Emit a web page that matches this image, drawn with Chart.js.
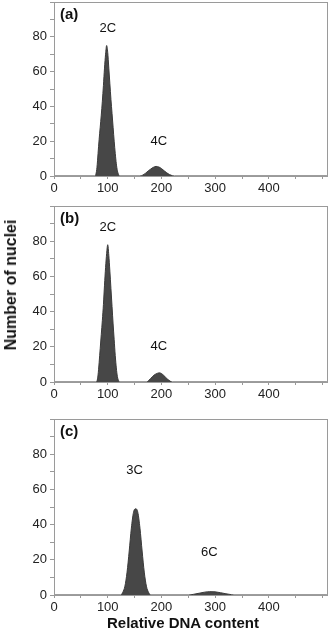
<!DOCTYPE html>
<html>
<head>
<meta charset="utf-8">
<script src="https://cdn.jsdelivr.net/npm/chart.js@4.4.1/dist/chart.umd.min.js"></script>
<style>
  html, body { margin:0; padding:0; background:#fff; }
  #wrap { position:relative; width:331px; height:639px; overflow:hidden; font-family:"Liberation Sans", Arial, sans-serif; }
  canvas { position:absolute; left:0; }
  .title { position:absolute; font-weight:bold; color:#111; white-space:nowrap; }
</style>
</head>
<body>
<div id="wrap">
  <canvas id="ca" width="331" height="200" style="top:0px"></canvas>
  <canvas id="cb" width="331" height="202" style="top:204px"></canvas>
  <canvas id="cc" width="331" height="202" style="top:417px"></canvas>
  <div class="title" style="left:11px; top:285px; font-size:16px; transform:translate(-50%,-50%) rotate(-90deg);">Number of nuclei</div>
  <div class="title" style="left:183px; top:622px; font-size:15px; transform:translate(-50%,-50%);">Relative DNA content</div>
</div>
<script>
// ---- data ----
const xTickLabels = ['0', '100', '200', '300', '400'];
const yTickLabels = ['0', '20', '40', '60', '80'];

const panelTags = ['(a)', '(b)', '(c)'];

// Panel (a)
const xA = [0, 76, 78, 80, 82, 84, 86, 88, 90, 92, 94, 96, 98, 100, 102, 104, 106, 108, 110, 112, 114, 116, 118, 120, 122,
            160, 165, 170, 175, 180, 185, 190, 195, 200, 205, 210, 215, 220, 224, 508];
const yA = [0, 0, 1, 5, 13, 21, 28, 35, 43, 52, 62, 70, 75, 71, 62, 53, 44, 36, 28, 20, 13, 7, 3, 1, 0,
            0, 0.5, 1.5, 2.8, 4, 5, 5.5, 5.2, 4.3, 3, 1.8, 0.8, 0.2, 0, 0];
const peakNamesA = ['2C', '4C'];
const peakLabelXA = [100, 195];
const peakLabelYA = [85, 20];

// Panel (b)
const xB = [0, 78, 80, 82, 84, 86, 88, 90, 92, 94, 96, 98, 100, 102, 104, 106, 108, 110, 112, 114, 116, 118, 120, 122,
            172, 176, 180, 184, 188, 192, 196, 200, 204, 208, 212, 216, 220, 508];
const yB = [0, 0, 0.5, 4, 11, 19, 27, 35, 44, 55, 65, 73, 78, 72, 63, 53, 43, 33, 24, 15, 8, 3, 1, 0,
            0, 0.8, 2, 3.3, 4.3, 4.9, 5.2, 4.8, 3.8, 2.6, 1.4, 0.5, 0, 0];
const peakNamesB = ['2C', '4C'];
const peakLabelXB = [100, 195];
const peakLabelYB = [88, 20];

// Panel (c)
const xC = [0, 124, 128, 132, 136, 140, 144, 148, 152, 156, 160, 164, 168, 172, 176, 180,
            250, 260, 270, 280, 290, 300, 310, 320, 330, 335, 508];
const yC = [0, 0, 1.5, 5, 13, 25, 38, 47, 49, 47, 38, 25, 13, 5, 1.5, 0,
            0, 0.4, 1, 1.6, 1.9, 1.8, 1.3, 0.7, 0.2, 0, 0];
const peakNamesC = ['3C', '6C'];
const peakLabelXC = [150, 289];
const peakLabelYC = [71, 24];

// ---- rendering ----
const FONT = '"Liberation Sans", Arial, sans-serif';
Chart.defaults.font.family = FONT;
Chart.defaults.color = '#222';

const framePlugin = {
  id: 'frameAndLabels',
  afterDatasetsDraw(chart, args, opts) {
    const { ctx, chartArea: a, scales } = chart;
    ctx.save();
    ctx.strokeStyle = '#9a9a9a';
    ctx.lineWidth = 1;
    ctx.strokeRect(Math.round(a.left) + 0.5, Math.round(a.top) + 0.5,
                   Math.round(a.right - a.left) - 1, Math.round(a.bottom - a.top));
    ctx.fillStyle = '#111';
    ctx.textAlign = 'left';
    ctx.textBaseline = 'middle';
    ctx.font = 'bold 15px ' + FONT;
    ctx.fillText(opts.tag, a.left + 6, a.top + 13);
    ctx.font = '13px ' + FONT;
    ctx.textAlign = 'center';
    opts.names.forEach((n, i) => {
      ctx.fillText(n, scales.x.getPixelForValue(opts.lx[i]), scales.y.getPixelForValue(opts.ly[i]));
    });
    ctx.restore();
  }
};

function makePanel(id, xs, ys, tag, names, lx, ly) {
  const pts = xs.map((x, i) => ({ x: x, y: ys[i] }));
  return new Chart(document.getElementById(id), {
    type: 'line',
    data: {
      datasets: [{
        data: pts,
        fill: 'origin',
        backgroundColor: '#474747',
        borderColor: '#3a3a3a',
        borderWidth: 1,
        pointRadius: 0,
        cubicInterpolationMode: 'monotone'
      }]
    },
    plugins: [framePlugin],
    options: {
      responsive: false,
      devicePixelRatio: 1,
      animation: false,
      layout: { padding: { top: 2, right: 3, left: 0, bottom: 0 } },
      plugins: {
        legend: { display: false },
        tooltip: { enabled: false },
        frameAndLabels: { tag: tag, names: names, lx: lx, ly: ly }
      },
      scales: {
        x: {
          type: 'linear',
          min: 0, max: 510,
          border: { display: false },
          grid: { drawOnChartArea: false, drawTicks: true, tickLength: 3, color: '#999' },
          ticks: {
            stepSize: 50,
            includeBounds: false,
            maxRotation: 0,
            autoSkip: false,
            padding: 2,
            font: { size: 13 },
            color: '#222',
            callback: (v) => xTickLabels.includes(String(v)) ? String(v) : ''
          },
          afterFit: (s) => { s.height = 24; s.paddingLeft = 0; s.paddingRight = 0; s.paddingTop = 0; s.paddingBottom = 0; }
        },
        y: {
          type: 'linear',
          min: 0, max: 100,
          border: { display: false },
          grid: { drawOnChartArea: false, drawTicks: true, tickLength: 4, color: '#999' },
          ticks: {
            stepSize: 10,
            includeBounds: false,
            autoSkip: false,
            padding: 3,
            font: { size: 13 },
            color: '#222',
            callback: (v) => yTickLabels.includes(String(v)) ? String(v) : ''
          },
          afterFit: (s) => { s.width = 54; s.paddingTop = 0; s.paddingBottom = 0; s.paddingLeft = 0; s.paddingRight = 0; }
        }
      }
    }
  });
}

makePanel('ca', xA, yA, panelTags[0], peakNamesA, peakLabelXA, peakLabelYA);
makePanel('cb', xB, yB, panelTags[1], peakNamesB, peakLabelXB, peakLabelYB);
makePanel('cc', xC, yC, panelTags[2], peakNamesC, peakLabelXC, peakLabelYC);
</script>
</body>
</html>
